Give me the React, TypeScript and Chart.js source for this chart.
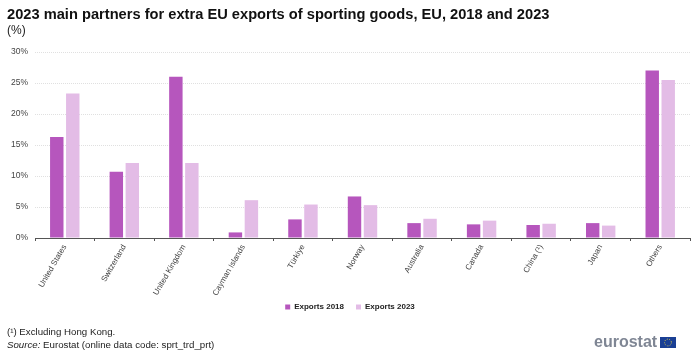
import React, { useEffect, useRef } from "react";
import { Chart, registerables } from "chart.js";

Chart.register(...registerables);

const categories = ["United States", "Switzerland", "United Kingdom", "Cayman Islands", "Türkiye", "Norway", "Australia", "Canada", "China (¹)", "Japan", "Others"];
const exports2018 = [16.3, 10.7, 26.0, 0.9, 3.0, 6.7, 2.4, 2.2, 2.1, 2.4, 27.0];
const exports2023 = [23.3, 12.1, 12.1, 6.1, 5.4, 5.3, 3.1, 2.8, 2.3, 2.0, 25.5];
const yTicksMax = 30;
const FONT = "'Liberation Sans', Arial, sans-serif";

const legendNudge = {
  id: "legendNudge",
  afterLayout(chart: any) {
    const l = chart.legend;
    l.top -= 7;
    l.bottom -= 7;
    l.left += 5;
    l.right += 5;
  },
};

export default function App() {
  const ref = useRef<HTMLCanvasElement>(null);
  useEffect(() => {
    document.body.style.margin = "0";
    const chart = new Chart(ref.current!, {
      type: "bar",
      plugins: [legendNudge],
      data: {
        labels: categories,
        datasets: [
          { label: "Exports 2018", data: exports2018, backgroundColor: "#B656BD", borderWidth: 0, categoryPercentage: 0.537, barPercentage: 0.84 },
          { label: "Exports 2023", data: exports2023, backgroundColor: "#E3BCE6", borderWidth: 0, categoryPercentage: 0.537, barPercentage: 0.84 },
        ],
      },
      options: {
        animation: false,
        responsive: false,
        layout: { padding: { left: 0, right: 10, top: 52, bottom: 26 } },
        plugins: {
          title: { display: false },
          tooltip: { enabled: false },
          legend: {
            display: true,
            position: "bottom",
            labels: {
              boxWidth: 5,
              boxHeight: 5,
              padding: 12,
              color: "#222",
              font: { family: FONT, size: 8, weight: "bold" },
            },
          },
        },
        scales: {
          x: {
            offset: true,
            afterFit: (s: any) => { s.height = 60; },
            grid: { offset: true, drawOnChartArea: false, drawTicks: true, tickLength: 3, color: "#555" },
            border: { color: "#555", width: 1 },
            ticks: { autoSkip: false, minRotation: 60, maxRotation: 60, padding: 2, color: "#444", font: { family: FONT, size: 8 } },
          },
          y: {
            min: 0,
            max: yTicksMax,
            afterFit: (s: any) => { s.width = 35; },
            grid: { drawTicks: false, color: "#E0E0E0", lineWidth: 1 },
            border: { display: false, dash: [1, 1] },
            ticks: { stepSize: 5, padding: 7, color: "#444", font: { family: FONT, size: 8.5 }, callback: (v: any) => v + "%" },
          },
        },
      },
    } as any);
    return () => chart.destroy();
  }, []);

  const abs = (x: number, y: number, extra: React.CSSProperties = {}): React.CSSProperties => ({
    position: "absolute", left: x, top: y, fontFamily: FONT, whiteSpace: "nowrap", lineHeight: 1, ...extra,
  });

  return (
    <div style={{ position: "relative", width: 700, height: 354, overflow: "hidden", background: "#fff" }}>
      <canvas ref={ref} width={700} height={354} style={{ display: "block" }} />
      <div style={abs(7, 7, { fontSize: 14.67, fontWeight: "bold", color: "#111" })}>2023 main partners for extra EU exports of sporting goods, EU, 2018 and 2023</div>
      <div style={abs(7, 24, { fontSize: 12, color: "#222" })}>(%)</div>
      <div style={abs(7, 327, { fontSize: 9.7, color: "#222" })}>(¹) Excluding Hong Kong.</div>
      <div style={abs(7, 340, { fontSize: 9.7, color: "#222" })}><i>Source:</i> Eurostat (online data code: sprt_trd_prt)</div>
      <div style={abs(594, 334, { fontSize: 16, fontWeight: "bold", color: "#7F8694" })}>eurostat</div>
      <svg style={{ position: "absolute", left: 660, top: 337 }} width={16} height={11}>
        <rect width={16} height={11} fill="#1A3F94" />
        <circle cx={8} cy={5.5} r={3.4} fill="none" stroke="#D9C94A" strokeWidth={1} strokeDasharray="1 1.4" />
      </svg>
    </div>
  );
}
